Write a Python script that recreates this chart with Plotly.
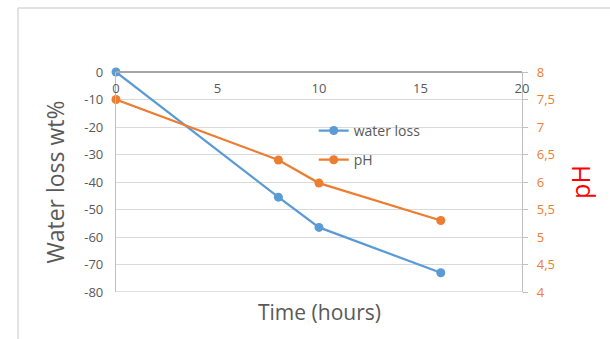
import plotly.graph_objects as go

time_h = [0, 8, 10, 16]
water_loss = [0, -45.5, -56.5, -73]
ph_values = [7.5, 6.4, 5.98, 5.3]

x_ticks = [0, 5, 10, 15, 20]
y_ticks = [0, -10, -20, -30, -40, -50, -60, -70, -80]
y_ticktext = ["0", "-10", "-20", "-30", "-40", "-50", "-60", "-70", "-80"]
ph_ticks = [4, 4.5, 5, 5.5, 6, 6.5, 7, 7.5, 8]
ph_ticktext = ["4", "4,5", "5", "5,5", "6", "6,5", "7", "7,5", "8"]

BLUE = "#5B9BD5"
ORANGE = "#ED7D31"
GRAY_TXT = "#595959"
GRID = "#D9D9D9"
FONT = "Open Sans"

fig = go.Figure()
fig.add_trace(go.Scatter(
    x=time_h, y=water_loss, name="water loss", mode="lines+markers",
    line=dict(color=BLUE, width=2.25), marker=dict(size=9, color=BLUE),
    cliponaxis=False, legendgroup="a", yaxis="y"))
fig.add_trace(go.Scatter(
    x=time_h, y=ph_values, name="pH", mode="lines+markers",
    line=dict(color=ORANGE, width=2.25), marker=dict(size=9, color=ORANGE),
    cliponaxis=False, legendgroup="b", yaxis="y2"))

fig.update_layout(
    width=610, height=339,
    margin=dict(l=116, r=88, t=72, b=47),
    paper_bgcolor="white", plot_bgcolor="white",
    font=dict(family=FONT, color=GRAY_TXT, size=12),
    showlegend=True,
    legend=dict(x=0.487, y=0.805, xanchor="left", yanchor="top",
                bgcolor="rgba(0,0,0,0)", font=dict(size=14, color=GRAY_TXT),
                tracegroupgap=8, itemwidth=30),
    xaxis=dict(range=[0, 20], tickvals=x_ticks, side="bottom",
               anchor="free", position=1,
               showgrid=False, zeroline=False,
               showline=True, linecolor="#A6A6A6", linewidth=1.5, ticks="",
               ticklabelstandoff=5,
               tickfont=dict(size=13, color=GRAY_TXT)),
    yaxis=dict(range=[-80, 0], tickvals=y_ticks, ticktext=y_ticktext,
               showgrid=True, gridcolor=GRID,
               gridwidth=1.25, zeroline=False, showline=True, linecolor="#BFBFBF",
               linewidth=1.25, ticks="", ticklabelstandoff=9,
               tickfont=dict(size=13, color=GRAY_TXT),
               title=dict(text="Water loss wt%", font=dict(size=23, color=GRAY_TXT),
                          standoff=13)),
    yaxis2=dict(range=[4, 8], tickvals=ph_ticks, ticktext=ph_ticktext,
                overlaying="y", side="right", showgrid=False, zeroline=False,
                showline=True, linecolor="#BFBFBF", linewidth=1.25,
                ticks="outside", ticklen=5, tickcolor="#BFBFBF",
                ticklabelstandoff=6,
                tickfont=dict(size=13, color=ORANGE),
                title=dict(text="pH", font=dict(size=25, color="#FF0000"),
                           standoff=18)),
    annotations=[
        dict(text="Time (hours)", xref="paper", yref="paper", x=0.5, y=-0.091,
             xanchor="center", yanchor="middle", showarrow=False,
             font=dict(size=21, color=GRAY_TXT)),
    ],
    shapes=[
        dict(type="line", xref="paper", yref="paper", x0=-0.2414, x1=1.3,
             y0=1.291, y1=1.291, line=dict(color=GRID, width=1.5)),
        dict(type="line", xref="paper", yref="paper", x0=-0.2414, x1=-0.2414,
             y0=1.291, y1=-0.3, line=dict(color=GRID, width=1.5)),
        dict(type="line", xref="x", yref="y", x0=0, x1=20, y0=-80, y1=-80,
             line=dict(color="#BFBFBF", width=1.25), layer="below"),
    ],
)

fig.write_html("out.html")
